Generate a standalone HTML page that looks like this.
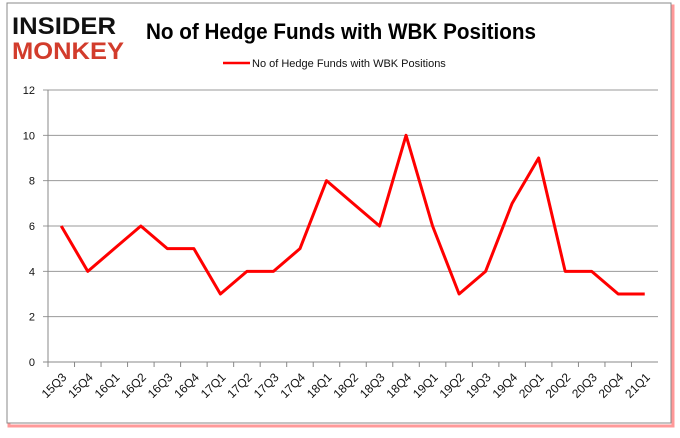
<!DOCTYPE html>
<html><head><meta charset="utf-8"><style>
body{margin:0;width:680px;height:433px;background:#fff;overflow:hidden;font-family:"Liberation Sans",sans-serif}
</style></head><body>
<svg width="680" height="433" xmlns="http://www.w3.org/2000/svg">
<rect x="9" y="6" width="664" height="420" fill="none" stroke="#f33" stroke-width="3" opacity="0.5"/>
<rect x="7" y="3" width="664" height="420" fill="#fff" stroke="#888" stroke-width="1"/>
<g font-family="Liberation Sans,sans-serif" font-weight="bold">
<text x="12" y="34" font-size="24" fill="#111" textLength="104" lengthAdjust="spacingAndGlyphs">INSIDER</text>
<text x="12" y="59" font-size="24" fill="#d23c2c" textLength="112" lengthAdjust="spacingAndGlyphs">MONKEY</text>
</g>
<text x="146" y="39" font-size="22" font-weight="bold" fill="#000" textLength="390" lengthAdjust="spacingAndGlyphs">No of Hedge Funds with WBK Positions</text>
<g>
<line x1="223" y1="63" x2="250" y2="63" stroke="red" stroke-width="2.5"/>
<text x="252" y="67" font-size="11" fill="#111">No of Hedge Funds with WBK Positions</text>
</g>
<g id="grid"></g><g id="axes"></g><g id="series"></g>
</svg>
<script>
const categories=["15Q3","15Q4","16Q1","16Q2","16Q3","16Q4","17Q1","17Q2","17Q3","17Q4","18Q1","18Q2","18Q3","18Q4","19Q1","19Q2","19Q3","19Q4","20Q1","20Q2","20Q3","20Q4","21Q1"];
const values=[6,4,5,6,5,5,3,4,4,5,8,7,6,10,6,3,4,7,9,4,4,3,3];
const yTicks=[0,2,4,6,8,10,12];
const NS="http://www.w3.org/2000/svg";
const L=48,R=658,T=90,B=362;
const step=(R-L)/categories.length;
const x=i=>L+step*(i+0.5);
const y=v=>B-(v/12)*(B-T);
function mk(t,a,p){const e=document.createElementNS(NS,t);for(const k in a)e.setAttribute(k,a[k]);p.appendChild(e);return e;}
const grid=document.getElementById('grid'),axes=document.getElementById('axes'),ser=document.getElementById('series');
yTicks.forEach(v=>{
 const g=mk('line',{x1:L-5,x2:R,y1:y(v),y2:y(v),stroke:v===0?'#888':'#999','stroke-width':1},grid);
 
 
 const t=mk('text',{x:L-13,y:y(v)+4,'text-anchor':'end','font-size':11,fill:'#111'},axes);
 t.textContent=v;
 
 
});
const ya=mk('line',{x1:L,x2:L,y1:T,y2:B,stroke:'#888'},axes);


categories.forEach((c,i)=>{
 const tk=mk('line',{x1:L+step*i,x2:L+step*i,y1:B,y2:B+5,stroke:'#888'},axes);
 
 
 const cx=x(i)+6,cy=B+16;
 const t=mk('text',{x:cx,y:cy,'text-anchor':'end','font-size':12,fill:'#111',transform:`rotate(-45 ${cx} ${cy})`},axes);
 t.textContent=c;
 
 
});
const pl=mk('polyline',{points:values.map((v,i)=>x(i)+','+y(v)).join(' '),fill:'none',stroke:'red','stroke-width':3,'stroke-linejoin':'round'},ser);


</script>
</body></html>
